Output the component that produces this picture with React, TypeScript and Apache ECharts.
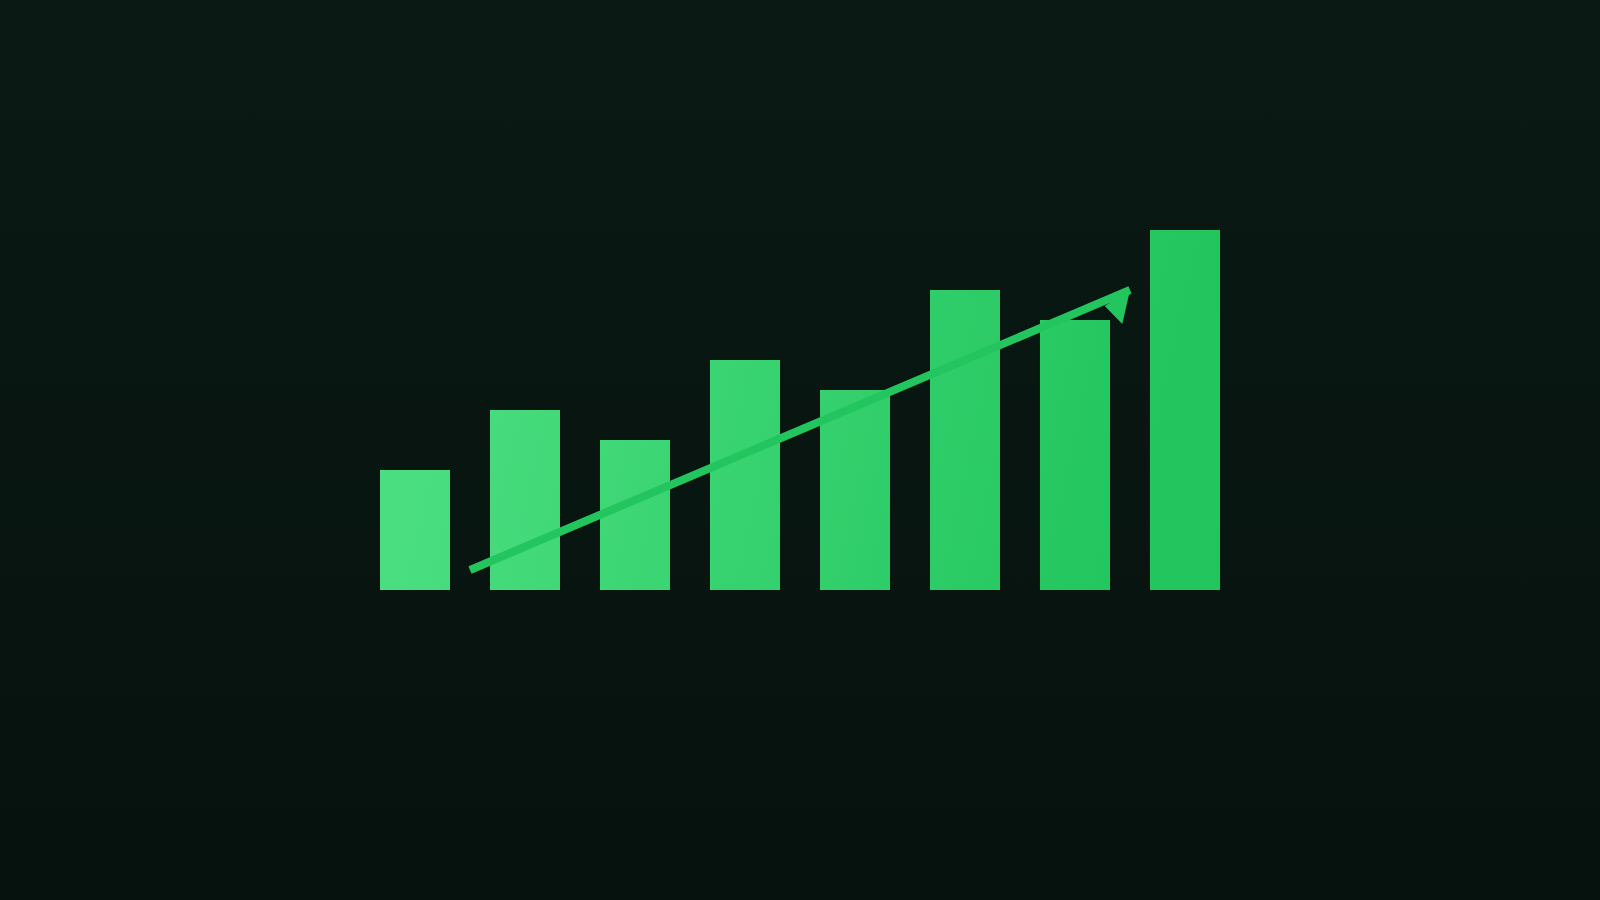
import { useEffect, useRef } from 'react';
import * as echarts from 'echarts';

// bar heights, left to right
const categories = ['1', '2', '3', '4', '5', '6', '7', '8'];
const barValues = [120, 180, 150, 230, 200, 300, 270, 360];

// trend arrow, x in category index units, y in bar units
const trendLine = [
  [0.5, 20],
  [6.5, 300],
];
const arrowHead = [
  [6.27, 284],
  [6.43, 266],
  [6.5, 300],
];

export default function App() {
  const ref = useRef<HTMLDivElement>(null);

  useEffect(() => {
    document.body.style.margin = '0';
    if (!ref.current) return;
    const chart = echarts.init(ref.current, null, { renderer: 'svg' });

    chart.setOption({
      animation: false,
      backgroundColor: 'transparent',
      grid: { left: 360, top: 190, width: 880, height: 400 },
      xAxis: [
        { type: 'category', data: categories, show: false, boundaryGap: true },
        { type: 'value', min: -0.5, max: 7.5, show: false },
      ],
      yAxis: { type: 'value', min: 0, max: 400, show: false },
      series: [
        {
          type: 'bar',
          data: barValues,
          barWidth: 70,
          itemStyle: {
            color: {
              type: 'linear',
              global: true,
              x: 420, y: 400, x2: 1130, y2: 560,
              colorStops: [
                { offset: 0, color: '#4ade80' },
                { offset: 1, color: '#22c55e' },
              ],
            },
          },
          silent: true,
        },
        {
          type: 'line',
          xAxisIndex: 1,
          data: trendLine,
          symbol: 'none',
          lineStyle: { color: '#22c55e', width: 8, cap: 'butt' },
          z: 5,
          silent: true,
        },
        {
          type: 'custom',
          xAxisIndex: 1,
          data: [arrowHead.flat()],
          encode: { x: [0, 2, 4], y: [1, 3, 5] },
          renderItem: (_params: any, api: any) => {
            const pts = [0, 1, 2].map((i) => api.coord([api.value(i * 2), api.value(i * 2 + 1)]));
            return {
              type: 'polygon',
              shape: { points: pts },
              style: { fill: '#22c55e' },
            };
          },
          z: 6,
          silent: true,
        },
      ],
    });

    return () => chart.dispose();
  }, []);

  return (
    <div
      ref={ref}
      style={{
        position: 'absolute',
        left: 0,
        top: 0,
        width: 1600,
        height: 900,
        background: 'linear-gradient(180deg, #0a1914 0%, #06120e 100%)',
      }}
    />
  );
}
